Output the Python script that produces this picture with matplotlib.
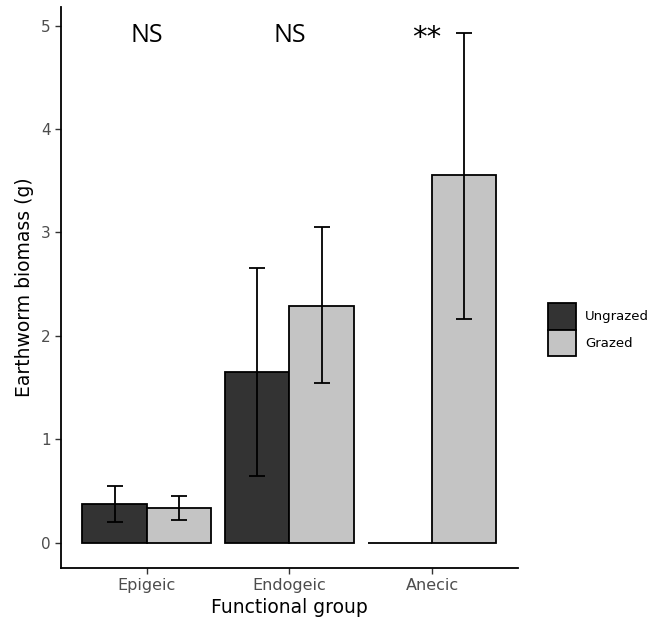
import matplotlib.pyplot as plt
import numpy as np

groups = ["Epigeic", "Endogeic", "Anecic"]
treatments = ["Ungrazed", "Grazed"]
ungrazed = [0.37, 1.65, 0.0]
ungrazed_lo = [0.20, 0.64, 0.0]
ungrazed_hi = [0.55, 2.66, 0.0]
grazed = [0.33, 2.29, 3.55]
grazed_lo = [0.22, 1.54, 2.16]
grazed_hi = [0.45, 3.05, 4.93]
signif = ["NS", "NS", "**"]

fig = plt.figure(figsize=(6.64, 6.23), dpi=100)
ax = fig.add_axes([0.0919, 0.0883, 0.688, 0.9005])

x = np.arange(1, len(groups) + 1)
w = 0.45
cols = ["#333333", "#c4c4c4"]
means = [ungrazed, grazed]
los = [ungrazed_lo, grazed_lo]
his = [ungrazed_hi, grazed_hi]
for i in range(2):
    xs = x + (i - 0.5) * w
    ax.bar(xs, means[i], width=w, color=cols[i], edgecolor="black",
           linewidth=1.3, label=treatments[i], zorder=2)
    m = np.array(means[i])
    err = [m - np.array(los[i]), np.array(his[i]) - m]
    keep = np.array(his[i]) > 0
    ax.errorbar(xs[keep], m[keep], yerr=[err[0][keep], err[1][keep]], fmt="none",
                ecolor="black", elinewidth=1.3, capsize=6, capthick=1.3, zorder=3)

# significance labels
sx = [x[0], x[1], x[2] - 0.04]
for k in range(3):
    if signif[k] == "**":
        ax.text(sx[k], 4.88, signif[k], ha="center", va="center", fontsize=21,
                family="DejaVu Sans")
    else:
        ax.text(sx[k], 4.9, signif[k], ha="center", va="center", fontsize=18,
                family="Open Sans")

ax.set_xlim(0.4, 3.6)
ax.set_ylim(-0.2465, 5.18)
ax.set_xticks(x)
ax.set_xticklabels(groups)
ax.set_yticks([0, 1, 2, 3, 4, 5])
ax.tick_params(axis="x", labelsize=11.5)
ax.tick_params(axis="y", labelsize=11)
ax.tick_params(axis="both", labelcolor="#4d4d4d", color="#333333",
               length=4, width=1)
ax.spines["top"].set_visible(False)
ax.spines["right"].set_visible(False)
for s in ["left", "bottom"]:
    ax.spines[s].set_linewidth(1.3)
ax.set_xlabel("Functional group", fontsize=13.5, labelpad=3)
ax.set_ylabel("Earthworm biomass (g)", fontsize=13.5, labelpad=5)

leg = ax.legend(loc="center left", bbox_to_anchor=(1.065, 0.425), frameon=False,
                fontsize=9.5, handlelength=2.15, handleheight=2.75, handletextpad=0.7,
                labelspacing=0.0, borderaxespad=0, borderpad=0)

fig.savefig("out.png", dpi=100)
